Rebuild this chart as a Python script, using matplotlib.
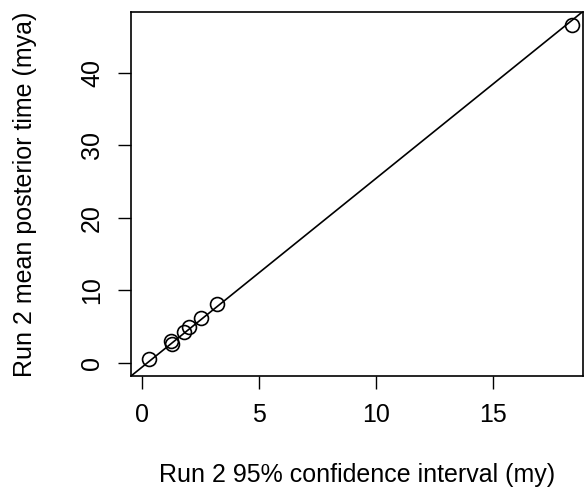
import matplotlib
matplotlib.use("Agg")
import matplotlib.pyplot as plt
import numpy as np

plt.rcParams['font.family'] = ['Liberation Sans', 'DejaVu Sans']

ci_width = [0.28, 1.21, 1.28, 1.77, 1.99, 2.51, 3.20, 18.38]
mean_time = [0.51, 3.03, 2.60, 4.30, 4.90, 6.25, 8.10, 46.6]
x_ticks = [0, 5, 10, 15]
y_ticks = [0, 10, 20, 30, 40]
slope, intercept = 2.6, -0.53

W, H = 587, 501
fig = plt.figure(figsize=(W/100, H/100), dpi=100)
l, r, t, b = 131, 583, 12, 376
ax = fig.add_axes([l/W, 1 - b/H, (r-l)/W, (b-t)/H])
ax.plot(ci_width, mean_time, 'o', mfc='none', mec='black', ms=10, mew=1.2)
ax.set_xlim(-0.49, 18.85)
ax.set_ylim(-1.8, 48.4)
xs = np.array([-0.49, 18.85])
ax.plot(xs, slope*xs + intercept, color='black', lw=1.2)
ax.set_xticks(x_ticks)
ax.set_yticks(y_ticks)
ax.tick_params(direction='out', length=9.5, width=1, labelsize=18, pad=10)
for lab in ax.get_yticklabels():
    lab.set_rotation(90)
    lab.set_va('center')
for s in ax.spines.values():
    s.set_linewidth(1.2)
ax.set_xlabel('Run 2 95% confidence interval (my)', fontsize=18, labelpad=26)
ax.set_ylabel('Run 2 mean posterior time (mya)', fontsize=18, labelpad=31)
fig.savefig('out.png', dpi=100)
